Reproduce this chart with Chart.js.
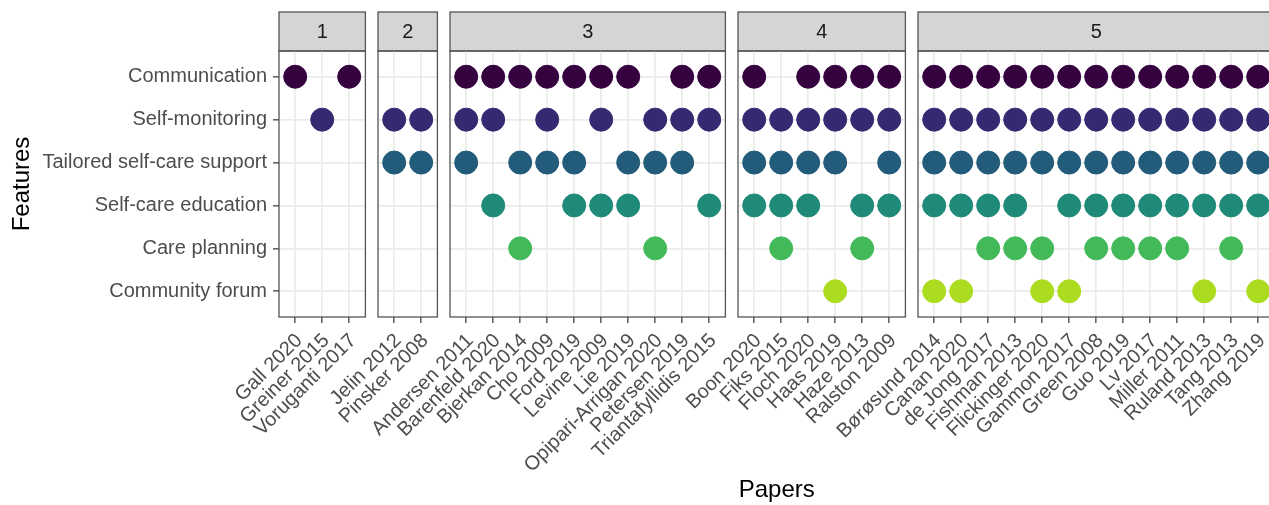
<!DOCTYPE html>
<html><head><meta charset="utf-8">
<script src="https://cdn.jsdelivr.net/npm/chart.js@4"></script>
<style>
html,body{margin:0;padding:0;background:#fff;overflow:hidden;width:1269px;height:505px;}
#wrap{position:relative;width:1269px;height:505px;overflow:hidden;}
#wrap canvas{position:absolute;left:0;top:0;pointer-events:none;}
</style></head><body><div id="wrap"></div>
<script>
// ---- data ----
const features = ['Communication', 'Self-monitoring', 'Tailored self-care support', 'Self-care education', 'Care planning', 'Community forum'];
const panelLabels = ['1', '2', '3', '4', '5'];
const papersPanel1 = ['Gall 2020', 'Greiner 2015', 'Voruganti 2017'];
const papersPanel2 = ['Jelin 2012', 'Pinsker 2008'];
const papersPanel3 = ['Andersen 2011', 'Barenfeld 2020', 'Bjerkan 2014', 'Cho 2009', 'Ford 2019', 'Levine 2009', 'Lie 2019', 'Opipari-Arrigan 2020', 'Petersen 2019', 'Triantafyllidis 2015'];
const papersPanel4 = ['Boon 2020', 'Fiks 2015', 'Floch 2020', 'Haas 2019', 'Haze 2013', 'Ralston 2009'];
const papersPanel5 = ['Børøsund 2014', 'Canan 2020', 'de Jong 2017', 'Fishman 2013', 'Flickinger 2020', 'Gammon 2017', 'Green 2008', 'Guo 2019', 'Lv 2017', 'Miller 2011', 'Ruland 2013', 'Tang 2013', 'Zhang 2019'];

// papers that have each feature
const communication = ['Gall 2020', 'Voruganti 2017',
  'Andersen 2011', 'Barenfeld 2020', 'Bjerkan 2014', 'Cho 2009', 'Ford 2019', 'Levine 2009', 'Lie 2019', 'Petersen 2019', 'Triantafyllidis 2015',
  'Boon 2020', 'Floch 2020', 'Haas 2019', 'Haze 2013', 'Ralston 2009',
  'Børøsund 2014', 'Canan 2020', 'de Jong 2017', 'Fishman 2013', 'Flickinger 2020', 'Gammon 2017', 'Green 2008', 'Guo 2019', 'Lv 2017', 'Miller 2011', 'Ruland 2013', 'Tang 2013', 'Zhang 2019'];
const selfMonitoring = ['Greiner 2015',
  'Jelin 2012', 'Pinsker 2008',
  'Andersen 2011', 'Barenfeld 2020', 'Cho 2009', 'Levine 2009', 'Opipari-Arrigan 2020', 'Petersen 2019', 'Triantafyllidis 2015',
  'Boon 2020', 'Fiks 2015', 'Floch 2020', 'Haas 2019', 'Haze 2013', 'Ralston 2009',
  'Børøsund 2014', 'Canan 2020', 'de Jong 2017', 'Fishman 2013', 'Flickinger 2020', 'Gammon 2017', 'Green 2008', 'Guo 2019', 'Lv 2017', 'Miller 2011', 'Ruland 2013', 'Tang 2013', 'Zhang 2019'];
const tailoredSupport = ['Jelin 2012', 'Pinsker 2008',
  'Andersen 2011', 'Bjerkan 2014', 'Cho 2009', 'Ford 2019', 'Lie 2019', 'Opipari-Arrigan 2020', 'Petersen 2019',
  'Boon 2020', 'Fiks 2015', 'Floch 2020', 'Haas 2019', 'Ralston 2009',
  'Børøsund 2014', 'Canan 2020', 'de Jong 2017', 'Fishman 2013', 'Flickinger 2020', 'Gammon 2017', 'Green 2008', 'Guo 2019', 'Lv 2017', 'Miller 2011', 'Ruland 2013', 'Tang 2013', 'Zhang 2019'];
const selfCareEducation = ['Barenfeld 2020', 'Ford 2019', 'Levine 2009', 'Lie 2019', 'Triantafyllidis 2015',
  'Boon 2020', 'Fiks 2015', 'Floch 2020', 'Haze 2013', 'Ralston 2009',
  'Børøsund 2014', 'Canan 2020', 'de Jong 2017', 'Fishman 2013', 'Gammon 2017', 'Green 2008', 'Guo 2019', 'Lv 2017', 'Miller 2011', 'Ruland 2013', 'Tang 2013', 'Zhang 2019'];
const carePlanning = ['Bjerkan 2014', 'Opipari-Arrigan 2020',
  'Fiks 2015', 'Haze 2013',
  'de Jong 2017', 'Fishman 2013', 'Flickinger 2020', 'Green 2008', 'Guo 2019', 'Lv 2017', 'Miller 2011', 'Tang 2013'];
const communityForum = ['Haas 2019',
  'Børøsund 2014', 'Canan 2020', 'Flickinger 2020', 'Gammon 2017', 'Ruland 2013', 'Zhang 2019'];

// ---- styles / layout ----
const featureColors = ['#35013f', '#342a72', '#235b7a', '#1f8a77', '#44b95a', '#acdc1f'];
const panels = [papersPanel1, papersPanel2, papersPanel3, papersPanel4, papersPanel5];
const featureLists = [communication, selfMonitoring, tailoredSupport, selfCareEducation, carePlanning, communityForum];
const FONT = "'Liberation Sans', Arial, Helvetica, sans-serif";
const W = 1290, H = 505;
const unit = 27, gap = 12.6, firstLeft = 279, stripTop = 12, areaTop = 51, areaBottom = 317;

const lefts = [];
let cur = firstLeft;
panels.forEach(p => { lefts.push(cur); cur += (p.length + 0.2) * unit + gap; });
const rights = panels.map((p, i) => lefts[i] + (p.length + 0.2) * unit);

const wrap = document.getElementById('wrap');

panels.forEach((papers, p) => {
  const canvas = document.createElement('canvas');
  canvas.width = W; canvas.height = H;
  canvas.style.width = W + 'px'; canvas.style.height = H + 'px';
  wrap.appendChild(canvas);

  const datasets = features.map((f, fi) => ({
    label: f,
    data: papers.map((paper, xi) => featureLists[fi].includes(paper) ? {x: xi, y: fi} : null).filter(Boolean),
    backgroundColor: featureColors[fi],
    borderColor: featureColors[fi],
    borderWidth: 1,
    pointRadius: 11.5,
    pointHoverRadius: 11.5
  }));

  const facetPlugin = {
    id: 'facet',
    beforeDraw(chart) {
      const {ctx, chartArea: a} = chart;
      ctx.save();
      ctx.fillStyle = '#d5d5d5';
      ctx.fillRect(a.left, stripTop, a.right - a.left, a.top - stripTop);
      ctx.strokeStyle = '#555555';
      ctx.lineWidth = 1.3;
      ctx.strokeRect(a.left, stripTop, a.right - a.left, a.top - stripTop);
      ctx.fillStyle = '#1a1a1a';
      ctx.font = '20px ' + FONT;
      ctx.textAlign = 'center';
      ctx.textBaseline = 'middle';
      ctx.fillText(panelLabels[p], (a.left + a.right) / 2, (stripTop + a.top) / 2 + 1);
      ctx.restore();
    },
    afterDraw(chart) {
      const {ctx, chartArea: a} = chart;
      ctx.save();
      ctx.strokeStyle = '#555555';
      ctx.lineWidth = 1.3;
      ctx.strokeRect(a.left, a.top, a.right - a.left, a.bottom - a.top);
      if (p === 0) {
        ctx.fillStyle = '#000';
        ctx.font = '24px ' + FONT;
        ctx.textAlign = 'center';
        ctx.textBaseline = 'alphabetic';
        ctx.fillText('Papers', (lefts[0] + rights[rights.length - 1]) / 2, 497);
      }
      ctx.restore();
    }
  };

  new Chart(canvas, {
    type: 'scatter',
    data: {datasets},
    plugins: [facetPlugin],
    options: {
      responsive: false,
      animation: false,
      events: [],
      plugins: {legend: {display: false}, tooltip: {enabled: false}},
      layout: {padding: {left: p === 0 ? 0 : lefts[p], right: W - rights[p], top: areaTop, bottom: 0}},
      scales: {
        x: {
          type: 'linear',
          min: -0.6,
          max: papers.length - 0.4,
          afterBuildTicks: s => { s.ticks = papers.map((_, i) => ({value: i})); },
          afterFit: s => { s.height = H - areaBottom; s.paddingLeft = 0; s.paddingRight = 0; },
          ticks: {
            autoSkip: false, minRotation: 45, maxRotation: 45, padding: 6, labelOffset: 4,
            color: '#4d4d4d', font: {family: FONT, size: 20},
            callback: v => papers[v]
          },
          grid: {color: '#ebebeb', lineWidth: 1.7, tickColor: '#333333', tickWidth: 1.2, tickLength: 6, offset: false},
          border: {display: false}
        },
        y: {
          type: 'linear',
          reverse: true,
          min: -0.6,
          max: features.length - 0.4,
          afterBuildTicks: s => { s.ticks = features.map((_, i) => ({value: i})); },
          afterFit: s => { s.width = p === 0 ? firstLeft : 0; s.paddingTop = 0; s.paddingBottom = 0; },
          ticks: {
            display: p === 0, padding: 6,
            color: '#4d4d4d', font: {family: FONT, size: 20},
            callback: v => features[v]
          },
          grid: {color: '#ebebeb', lineWidth: 1.7, tickColor: '#333333', tickWidth: 1.2, tickLength: 6, drawTicks: p === 0},
          border: {display: false},
          title: {display: p === 0, text: 'Features', color: '#000', font: {family: FONT, size: 24}, padding: {top: 8, bottom: 0}}
        }
      }
    }
  });
});
</script>
</body></html>
